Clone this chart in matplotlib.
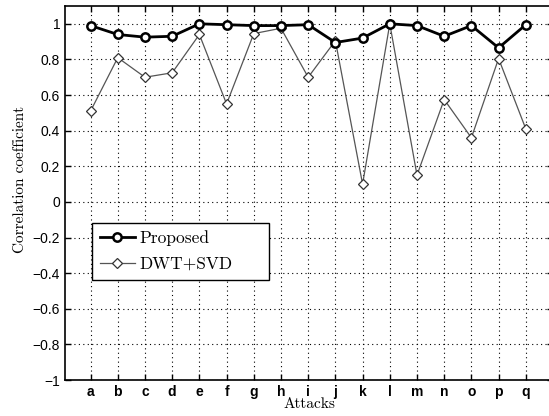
import matplotlib
matplotlib.use("Agg")
import matplotlib.pyplot as plt
from matplotlib.patches import Rectangle
import numpy as np

attacks = list("abcdefghijklmnopq")
proposed = [0.99, 0.94, 0.925, 0.93, 1.0, 0.995, 0.99, 0.99, 0.995, 0.895, 0.92, 1.0, 0.99, 0.93, 0.99, 0.865, 0.995]
dwt_svd = [0.51, 0.81, 0.70, 0.725, 0.94, 0.55, 0.945, 0.975, 0.70, 0.905, 0.10, 1.0, 0.15, 0.575, 0.36, 0.805, 0.41]
yticks = [-1, -0.8, -0.6, -0.4, -0.2, 0, 0.2, 0.4, 0.6, 0.8, 1]
ytick_labels = ["\u22121", "\u22120.8", "\u22120.6", "\u22120.4", "\u22120.2", "0", "0.2", "0.4", "0.6", "0.8", "1"]

W, H = 549, 416
fig = plt.figure(figsize=(W / 100, H / 100), dpi=100)
ax = fig.add_axes([65 / W, 1 - 380 / H, (553 - 65) / W, (380 - 6) / H])

x = np.arange(1, len(attacks) + 1)
ax.plot(x, proposed, color="black", lw=2.0, marker="o", ms=6, mfc="white", mec="black", mew=1.8, label="Proposed", zorder=4)
ax.plot(x, dwt_svd, color="#555555", lw=0.9, marker="D", ms=5, mfc="white", mec="#333333", mew=0.9, label="DWT+SVD", zorder=3)

ax.set_xlim(0.06, 18)
ax.set_ylim(-1, 1.1)
ax.set_xticks(x)
ax.set_xticklabels(attacks, fontsize=10, family="Liberation Sans", weight="bold")
ax.set_yticks(yticks)
ax.set_yticklabels(ytick_labels, fontsize=10, family="Liberation Sans")
ax.tick_params(direction="in", top=True, right=True, length=4, width=1)
ax.grid(True, linestyle=(0, (1, 3)), color="black", lw=0.8)
for s in ax.spines.values():
    s.set_linewidth(1.2)

ax.set_xlabel("Attacks", family="cmr10", fontsize=11, labelpad=-1)
ax.set_ylabel("Correlation coefficient", family="cmr10", fontsize=11)
ax.yaxis.set_label_coords((27 - 65) / 488, (380 - 179) / 374)

# legend frame (MATLAB-style box with extra right margin)
frame = Rectangle((92 / W, 1 - 280 / H), 177 / W, 57 / H, transform=fig.transFigure,
                  facecolor="white", edgecolor="black", lw=1.0, zorder=5)
ax.add_patch(frame)
frame.set_clip_on(False)

leg = ax.legend(loc="center left", bbox_to_anchor=((100 - 65) / 488, (380 - 251) / 374),
                prop={"family": "cmr10", "size": 12.5}, frameon=False,
                borderpad=0, borderaxespad=0, handlelength=2.0, handletextpad=0.25,
                labelspacing=0.6)
leg.set_zorder(6)

fig.savefig("out.png", dpi=100)
